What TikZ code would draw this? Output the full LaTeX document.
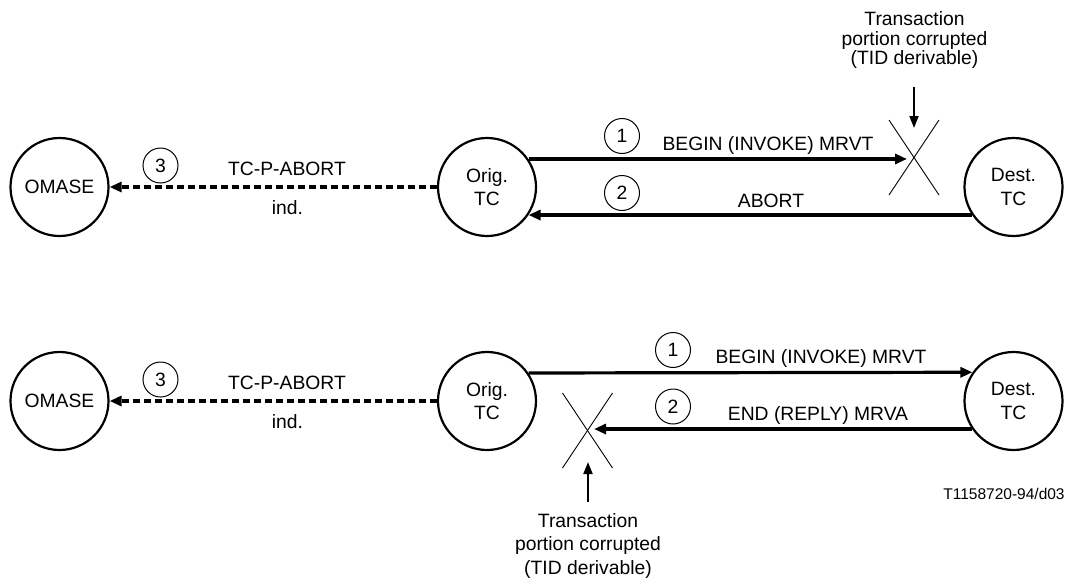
\documentclass[tikz,border=0pt]{standalone}
\usepackage{fontspec}
\setmainfont{Liberation Sans}
\usetikzlibrary{arrows.meta,calc}
\begin{document}
\begin{tikzpicture}[x=1pt,y=-1pt,
  ent/.style={circle,draw,line width=2.2pt,minimum size=98pt,inner sep=0pt,align=center,font=\fontsize{19.3}{23.2}\selectfont},
  num/.style={circle,draw,line width=1pt,minimum size=35pt,inner sep=0pt,font=\fontsize{19.3}{23.2}\selectfont},
  lbl/.style={inner sep=0pt,text height=13.8pt,text depth=0pt,font=\fontsize{19.3}{23.2}\selectfont},
  msg/.style={line width=3.2pt,-{Triangle[length=12pt,width=10pt]}},
  prim/.style={line width=3.3pt,dash pattern=on 7pt off 4pt,-{Triangle[length=12pt,width=10pt]}},
  cross/.style={line width=0.9pt},
  pointer/.style={line width=2pt,-{Triangle[length=12pt,width=9pt]}},
  note/.style={align=center,inner sep=0pt,anchor=north,font=\fontsize{19.3}{19.5}\selectfont},
  noteb/.style={align=center,inner sep=0pt,anchor=north,font=\fontsize{19.3}{23.5}\selectfont},
  ref/.style={inner sep=0pt,text height=11.2pt,text depth=0pt,font=\fontsize{15.5}{18}\selectfont}
]
\useasboundingbox (0,0) rectangle (1071,581);

% ---------- top row ----------
\node[ent] (om1) at (59.5,187) {OMASE};
\node[ent] (o1) at (487,187) {Orig.\\TC};
\node[ent] (d1) at (1013.5,187) {Dest.\\TC};

\node[num] (n31) at (160.5,165.5) {3};
\node[lbl] (p1) at (287,169) {TC-P-ABORT};
\node[lbl] (i1) at (287.5,208) {ind.};
\draw[prim] (o1.west) -- (om1.east);

\node[num] (n11) at (622,136) {1};
\node[lbl] (m11) at (768,143.5) {BEGIN (INVOKE) MRVT};
\node[num] (n21) at (622,193) {2};
\node[lbl] (m21) at (771,201) {ABORT};

\coordinate (x1) at (914,157.5);
\coordinate (hit1) at (907,158.5);
\draw[cross] ($(x1)+(-25,-37.5)$) -- ($(x1)+(25,37.5)$);
\draw[cross] ($(x1)+(25,-37.5)$) -- ($(x1)+(-25,37.5)$);
\draw[msg] (o1.34.7) -- (o1.34.7 -| hit1);
\draw[msg] (d1.214.7) -- (o1.-34.7);

\node[note] (t1) at (914.5,11.6) {Transaction\\portion corrupted\\(TID derivable)};
\coordinate (ps1) at (914,87);
\coordinate (pe1) at (914,128);
\draw[pointer] (ps1) -- (pe1);

% ---------- bottom row ----------
\node[ent] (om2) at (59.5,401) {OMASE};
\node[ent] (o2) at (487,401) {Orig.\\TC};
\node[ent] (d2) at (1013.5,401) {Dest.\\TC};

\node[num] (n32) at (160.5,379.5) {3};
\node[lbl] (p2) at (287,383) {TC-P-ABORT};
\node[lbl] (i2) at (287.5,422) {ind.};
\draw[prim] (o2.west) -- (om2.east);

\node[num] (n12) at (673,350) {1};
\node[lbl] (m12) at (821,357) {BEGIN (INVOKE) MRVT};
\node[num] (n22) at (673,406.5) {2};
\node[lbl] (m22) at (818,414) {END (REPLY) MRVA};

\coordinate (x2) at (587.5,430.5);
\coordinate (hit2) at (594,429.5);
\draw[cross] ($(x2)+(-25,-37.5)$) -- ($(x2)+(25,37.5)$);
\draw[cross] ($(x2)+(25,-37.5)$) -- ($(x2)+(-25,37.5)$);
\draw[msg] (o2.34.7) -- (d2.145.3);
\draw[msg] (d2.214.7) -- (d2.214.7 -| hit2);

\node[noteb] (t2) at (588,513) {Transaction\\portion corrupted\\(TID derivable)};
\coordinate (ps2) at (588,502);
\coordinate (pe2) at (588,462);
\draw[pointer] (ps2) -- (pe2);

\node[ref] (tn) at (1004,494) {T1158720-94/d03};
\end{tikzpicture}
\end{document}
